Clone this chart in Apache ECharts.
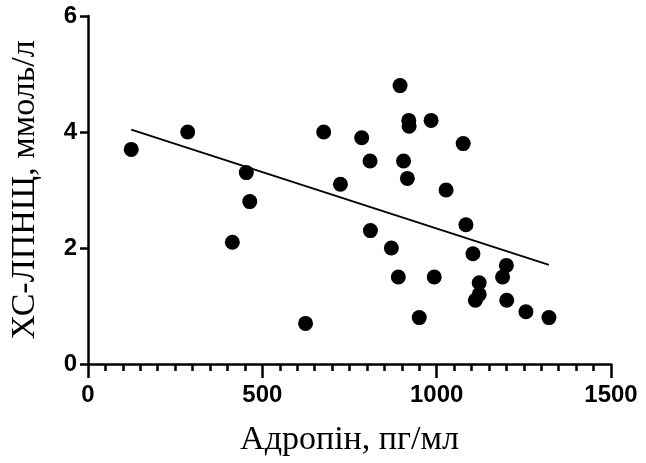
<!DOCTYPE html>
<html lang="uk">
<head>
<meta charset="UTF-8">
<title>Адропін vs ХС-ЛПНЩ</title>
<script src="https://cdn.jsdelivr.net/npm/echarts@6.0.0/dist/echarts.min.js"></script>
<style>
  * { margin: 0; padding: 0 }
  html, body { width: 100%; height: 100%; background: #fff; }
  #main { width: 646px; height: 463px; }
</style>
</head>
<body>
<div id="main"></div>
<script type="text/javascript">
// адропін, пг/мл
var adropin = [124, 286, 454, 464, 414, 624, 676, 724, 895, 920, 921, 984, 785, 1076, 809,
  905, 916, 1027, 810, 1084, 870, 1104, 890, 993, 1200, 1189, 1122, 1122, 1111, 1201,
  1256, 1322, 950];
// ХС-ЛПНЩ, ммоль/л
var ldl = [3.7, 4.0, 3.3, 2.8, 2.1, 0.7, 4.0, 3.1, 4.8, 4.2, 4.1, 4.2, 3.9, 3.8, 3.5,
  3.5, 3.2, 3.0, 2.3, 2.4, 2.0, 1.9, 1.5, 1.5, 1.7, 1.5, 1.4, 1.2, 1.1, 1.1,
  0.9, 0.8, 0.8];
// лінія регресії (кінці)
var fitX = [124, 1322];
var fitY = [4.04, 1.71];

var points = adropin.map(function (x, i) { return [x, ldl[i]]; });
var fitLine = fitX.map(function (x, i) { return [x, fitY[i]]; });

var myChart = echarts.init(document.getElementById('main'));
var option = {
  animation: false,
  grid: { left: 87, right: 35, top: 16, bottom: 99 },
  xAxis: {
    type: 'value',
    min: 0, max: 1500, interval: 500,
    name: 'Адропін, пг/мл',
    nameLocation: 'middle',
    nameGap: 59,
    nameTextStyle: { fontFamily: 'Liberation Serif', fontSize: 34, color: '#000' },
    axisLine: { onZero: false, lineStyle: { color: '#000', width: 2.5 } },
    axisTick: { show: true, inside: false, length: 14, lineStyle: { color: '#000', width: 2.5 } },
    minorTick: { show: true, splitNumber: 10, length: 7, lineStyle: { color: '#000', width: 2.5 } },
    axisLabel: {
      margin: 19, fontFamily: 'Liberation Sans', fontWeight: 'bold', fontSize: 24, color: '#000',
      formatter: function (v) { return String(v); }
    },
    splitLine: { show: false }
  },
  yAxis: {
    type: 'value',
    min: 0, max: 6, interval: 2,
    name: 'ХС-ЛПНЩ, ммоль/л',
    nameLocation: 'middle',
    nameGap: 46,
    nameTextStyle: { fontFamily: 'Liberation Serif', fontSize: 34, color: '#000' },
    axisLine: { show: true, onZero: false, lineStyle: { color: '#000', width: 2.5 } },
    axisTick: { show: true, inside: false, length: 8, lineStyle: { color: '#000', width: 2.5 } },
    axisLabel: { margin: 11, fontFamily: 'Liberation Sans', fontWeight: 'bold', fontSize: 24, color: '#000' },
    splitLine: { show: false }
  },
  series: [
    {
      type: 'scatter',
      data: points,
      symbol: 'circle',
      symbolSize: 15,
      itemStyle: { color: '#000', opacity: 1 }
    },
    {
      type: 'line',
      data: fitLine,
      symbol: 'none',
      lineStyle: { color: '#000', width: 1.8 }
    }
  ]
};
myChart.setOption(option);
</script>
</body>
</html>
